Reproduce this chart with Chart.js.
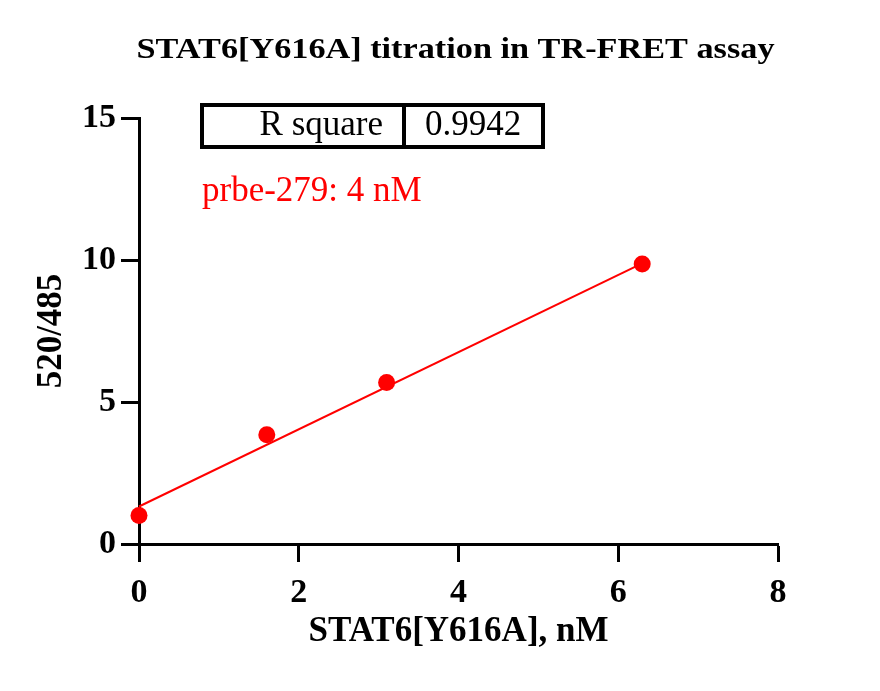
<!DOCTYPE html>
<html>
<head>
<meta charset="utf-8">
<script src="https://cdn.jsdelivr.net/npm/chart.js@4.4.1/dist/chart.umd.min.js"></script>
<style>
html,body{margin:0;padding:0;background:#fff;}
#wrap{width:880px;height:691px;}
</style>
</head>
<body>
<div id="wrap"><canvas id="c" width="880" height="691"></canvas></div>
<script>
// ---- data ----
const concX = [0, 1.6, 3.1, 6.3];           // STAT6[Y616A], nM
const ratioY = [1.0, 3.85, 5.69, 9.86];     // 520/485
const fitX = [0, 6.3];                      // linear fit endpoints
const fitY = [1.32, 9.88];
const xTicks = [0, 2, 4, 6, 8];
const yTicks = [0, 5, 10, 15];
const titleText = 'STAT6[Y616A] titration in TR-FRET assay';
const xTitle = 'STAT6[Y616A], nM';
const yTitle = '520/485';
const tableLabel = 'R square';
const tableValue = '0.9942';
const noteText = 'prbe-279: 4 nM';

const SERIF = "'Liberation Serif', 'Times New Roman', serif";
const RED = '#ff0000';

const pts = concX.map((x, i) => ({x: x, y: ratioY[i]}));
const fit = fitX.map((x, i) => ({x: x, y: fitY[i]}));

const annot = {
  id: 'annot',
  afterDraw(chart) {
    const ctx = chart.ctx;
    const ca = chart.chartArea;
    ctx.save();
    // title (the original is drawn slightly wide)
    ctx.fillStyle = '#000';
    ctx.font = 'bold 30px ' + SERIF;
    ctx.textAlign = 'center';
    ctx.textBaseline = 'alphabetic';
    const tw = ctx.measureText(titleText).width;
    const sx = 638 / tw;
    ctx.save();
    ctx.translate((ca.left + ca.right) / 2 - 3, 58);
    ctx.scale(sx, 1);
    ctx.fillText(titleText, 0, 0);
    ctx.restore();

    // R square table
    ctx.strokeStyle = '#000';
    ctx.lineWidth = 4;
    ctx.strokeRect(202, 105, 341, 42);
    ctx.beginPath();
    ctx.moveTo(404, 103);
    ctx.lineTo(404, 149);
    ctx.stroke();
    ctx.fillStyle = '#000';
    ctx.font = '35px ' + SERIF;
    ctx.textAlign = 'right';
    ctx.fillText(tableLabel, 383, 135);
    ctx.textAlign = 'left';
    ctx.fillText(tableValue, 425, 135);
    // red note
    ctx.fillStyle = RED;
    ctx.fillText(noteText, 202, 201);
    ctx.restore();
  }
};

new Chart(document.getElementById('c'), {
  type: 'scatter',
  data: {
    datasets: [
      {
        label: 'fit',
        data: fit,
        showLine: true,
        borderColor: RED,
        borderWidth: 2,
        pointRadius: 0,
        fill: false,
        clip: false
      },
      {
        label: 'data',
        data: pts,
        backgroundColor: RED,
        borderColor: RED,
        pointRadius: 8.5,
        pointBorderWidth: 0,
        clip: false
      }
    ]
  },
  options: {
    responsive: false,
    animation: false,
    devicePixelRatio: 1,
    layout: {padding: {top: 118, right: 102, bottom: 0, left: 0}},
    plugins: {
      legend: {display: false},
      tooltip: {enabled: false},
      title: {display: false}
    },
    scales: {
      x: {
        type: 'linear',
        min: 0, max: 8,
        afterFit(s) { s.height = 147; },
        afterBuildTicks(s) { s.ticks = xTicks.map(v => ({value: v})); },
        grid: {display: true, drawOnChartArea: false, drawTicks: true, tickLength: 18, tickWidth: 3, tickColor: '#000'},
        border: {display: true, color: '#000', width: 3},
        ticks: {color: '#000', padding: 11, font: {family: SERIF, size: 34, weight: 'bold'}},
        title: {display: true, text: xTitle, color: '#000', font: {family: SERIF, size: 35, weight: 'bold'}, padding: {top: 0, bottom: 38}}
      },
      y: {
        type: 'linear',
        min: 0, max: 15,
        afterFit(s) { s.width = 139; },
        afterBuildTicks(s) { s.ticks = yTicks.map(v => ({value: v})); },
        grid: {display: true, drawOnChartArea: false, drawTicks: true, tickLength: 18, tickWidth: 3, tickColor: '#000'},
        border: {display: true, color: '#000', width: 3},
        ticks: {color: '#000', padding: 5, font: {family: SERIF, size: 34, weight: 'bold'}},
        title: {display: true, text: yTitle, color: '#000', font: {family: SERIF, size: 35, weight: 'bold'}, padding: {top: 31, bottom: 0}}
      }
    }
  },
  plugins: [annot]
});
</script>
</body>
</html>
